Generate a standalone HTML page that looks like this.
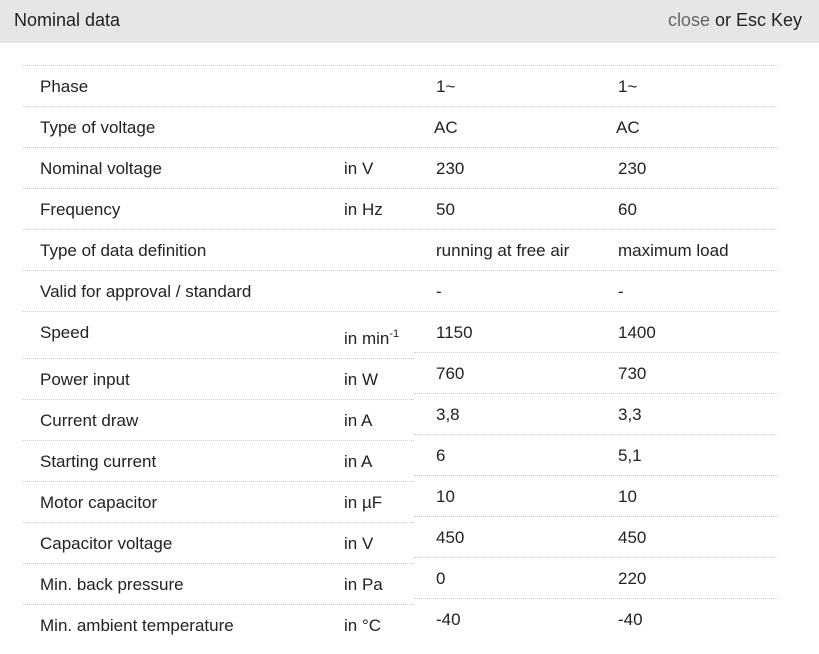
<!DOCTYPE html>
<html><head><style>
body{margin:0;width:819px;height:654px;background:#fff;font-family:"Liberation Sans",Arial,sans-serif;color:#222;position:relative;overflow:hidden}
.h{position:absolute;left:0;top:0;width:819px;height:43px;background:#e6e6e6}
.t{position:absolute;font-size:17px;line-height:20px;white-space:nowrap}
.l{position:absolute;height:0;border-top:1px dotted #ccc}
sup{font-size:11px;vertical-align:7px;line-height:0}
</style></head><body>
<div class="h"></div>
<div class="t" style="left:14px;top:10px;font-size:18px">Nominal data</div>
<div class="t" style="right:17px;top:10px;font-size:18px"><span style="color:#666">close</span> or Esc Key</div>
<div id="c"></div>
<script>
(function(){
var c=document.getElementById('c'),h='';
function t(x,y,s){h+='<div class="t" style="left:'+x+'px;top:'+(y-9)+'px">'+s+'</div>';}
function l(x1,x2,y){h+='<div class="l" style="left:'+x1+'px;width:'+(x2-x1)+'px;top:'+y+'px"></div>';}
var rows1=[["Phase","","1~","1~"],["Type of voltage","","AC","AC"],["Nominal voltage","in V","230","230"],["Frequency","in Hz","50","60"],["Type of data definition","","running at free air","maximum load"],["Valid for approval / standard","","-","-"]];
for(var i=0;i<=6;i++)l(23,778,65+41*i);
rows1.forEach(function(r,i){var y=86+41*i;t(40,y,r[0]);t(344,y,r[1]);t(r[2]=="AC"?434:436,y,r[2]);t(r[3]=="AC"?616:618,y,r[3]);});
var rows2=[["Speed","in min<sup>-1</sup>","1150","1400"],["Power input","in W","760","730"],["Current draw","in A","3,8","3,3"],["Starting current","in A","6","5,1"],["Motor capacitor","in µF","10","10"],["Capacitor voltage","in V","450","450"],["Min. back pressure","in Pa","0","220"],["Min. ambient temperature","in °C","-40","-40"]];
rows2.forEach(function(r,i){var vy=332+41*i;var ly=i==0?332:vy+6;t(40,ly,r[0]);t(344,vy+6,r[1]);t(436,vy,r[2]);t(618,vy,r[3]);
if(i<7){l(414,778,352+41*i);l(23,414,358+41*i);}});
c.innerHTML=h;
})();
</script>
</body></html>
